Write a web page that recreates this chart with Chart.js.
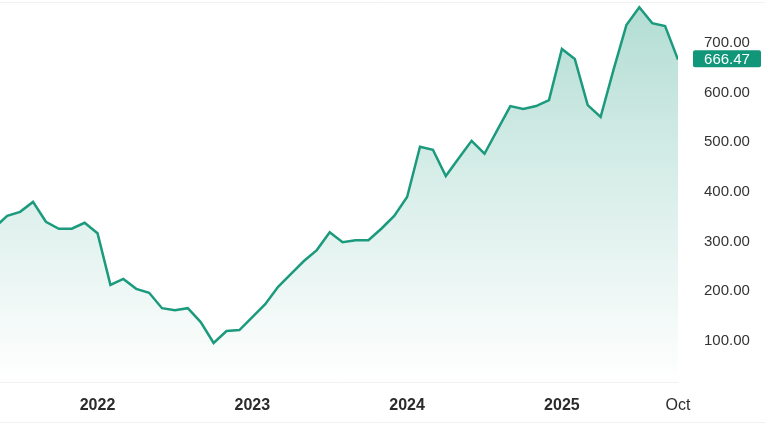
<!DOCTYPE html>
<html>
<head>
<meta charset="utf-8">
<script src="https://cdn.jsdelivr.net/npm/chart.js@4/dist/chart.umd.min.js"></script>
<style>
  html, body { margin: 0; padding: 0; background: #ffffff; }
  #wrap { width: 765px; height: 430px; position: relative; }
</style>
</head>
<body>
<div id="wrap"><canvas id="c" width="765" height="430"></canvas></div>
<script>
// ---- data ----
const months = [
  '2021-05','2021-06','2021-07','2021-08','2021-09','2021-10','2021-11','2021-12',
  '2022-01','2022-02','2022-03','2022-04','2022-05','2022-06','2022-07','2022-08','2022-09','2022-10','2022-11','2022-12',
  '2023-01','2023-02','2023-03','2023-04','2023-05','2023-06','2023-07','2023-08','2023-09','2023-10','2023-11','2023-12',
  '2024-01','2024-02','2024-03','2024-04','2024-05','2024-06','2024-07','2024-08','2024-09','2024-10','2024-11','2024-12',
  '2025-01','2025-02','2025-03','2025-04','2025-05','2025-06','2025-07','2025-08','2025-09','2025-10'
];
const prices = [
  328, 352, 360, 380, 340, 326, 326, 338,
  317, 213, 225, 205, 197, 166, 162, 166, 138, 96, 120, 122,
  148, 174, 209, 235, 261, 283, 319, 299, 303, 303, 326, 352,
  390, 491, 485, 432, 468, 503, 477, 525, 573, 567, 573, 585,
  688, 668, 575, 551, 646, 736, 772, 740, 734, 666.47
];
const tickMonths = ['2022-01','2023-01','2024-01','2025-01','2025-10'];
const tickLabels = ['2022','2023','2024','2025','Oct'];
const yTicks = [100, 200, 300, 400, 500, 600, 700];

// month string -> month index relative to Jan 2022
function monthIndex(s) {
  const [y, m] = s.split('-').map(Number);
  return (y - 2022) * 12 + (m - 1);
}
const points = months.map((m, i) => ({ x: monthIndex(m), y: prices[i] }));
const lastPrice = prices[prices.length - 1];

const lineColor = '#1b9a7d';
const badgeColor = '#12967a';
const FONT = '"Liberation Sans", Arial, sans-serif';

const framePlugin = {
  id: 'frame',
  beforeDraw(chart) {
    const ctx = chart.ctx;
    ctx.save();
    ctx.strokeStyle = '#f1f1f1';
    ctx.lineWidth = 1;
    ctx.beginPath();
    ctx.moveTo(0, 2.5); ctx.lineTo(chart.width, 2.5);
    ctx.moveTo(0, 422.5); ctx.lineTo(chart.width, 422.5);
    ctx.stroke();
    ctx.restore();
  }
};

const badgePlugin = {
  id: 'badge',
  afterDraw(chart) {
    const ctx = chart.ctx;
    const ys = chart.scales.y;
    const yPix = ys.getPixelForValue(lastPrice) - 1;
    const x0 = 693;
    const w = 68, h = 17;
    ctx.save();
    ctx.fillStyle = badgeColor;
    ctx.beginPath();
    if (ctx.roundRect) ctx.roundRect(x0, yPix - h / 2, w, h, 2); else ctx.rect(x0, yPix - h / 2, w, h);
    ctx.fill();
    ctx.fillStyle = '#ffffff';
    ctx.font = '15px ' + FONT;
    ctx.textAlign = 'center';
    ctx.textBaseline = 'middle';
    ctx.fillText(lastPrice.toFixed(2), x0 + w / 2, yPix + 1);
    ctx.restore();
  }
};

const ctx = document.getElementById('c').getContext('2d');
new Chart(ctx, {
  type: 'line',
  data: {
    datasets: [{
      data: points,
      borderColor: lineColor,
      borderWidth: 2.5,
      pointRadius: 0,
      tension: 0,
      fill: 'start',
      backgroundColor(context) {
        const area = context.chart.chartArea;
        if (!area) return 'rgba(27,154,125,0.2)';
        const g = context.chart.ctx.createLinearGradient(0, area.top, 0, area.bottom);
        g.addColorStop(0, 'rgba(27,154,125,0.34)');
        g.addColorStop(0.5, 'rgba(27,154,125,0.16)');
        g.addColorStop(1, 'rgba(27,154,125,0.0)');
        return g;
      }
    }]
  },
  options: {
    responsive: false,
    animation: false,
    devicePixelRatio: 1,
    layout: { padding: 0 },
    plugins: { legend: { display: false }, tooltip: { enabled: false } },
    scales: {
      x: {
        type: 'linear',
        min: -7.56,
        max: 45,
        grid: { display: false, drawTicks: false },
        border: { display: true, color: '#f1f1f1' },
        afterBuildTicks(scale) {
          scale.ticks = tickMonths.map(m => ({ value: monthIndex(m) }));
        },
        afterFit(scale) { scale.height = 48; scale.paddingLeft = 0; scale.paddingRight = 0; },
        ticks: {
          autoSkip: false,
          maxRotation: 0,
          padding: 14,
          color: '#2b2b2b',
          font(c) {
            const isYear = c.tick && c.tick.value !== monthIndex(tickMonths[tickMonths.length - 1]);
            return { family: FONT, size: 16, weight: isYear ? 'bold' : 'normal' };
          },
          callback(value) {
            const i = tickMonths.findIndex(m => monthIndex(m) === value);
            return i >= 0 ? tickLabels[i] : '';
          }
        }
      },
      y: {
        position: 'right',
        min: 17.4,
        max: 786.6,
        grid: { display: false, drawTicks: false },
        border: { display: false },
        afterBuildTicks(scale) {
          scale.ticks = yTicks.map(v => ({ value: v }));
        },
        afterFit(scale) { scale.width = 87; scale.paddingTop = 0; scale.paddingBottom = 0; },
        ticks: {
          padding: 26,
          color: '#333333',
          font: { family: FONT, size: 15 },
          callback(v) { return Number(v).toFixed(2); }
        }
      }
    }
  },
  plugins: [framePlugin, badgePlugin]
});
</script>
</body>
</html>
